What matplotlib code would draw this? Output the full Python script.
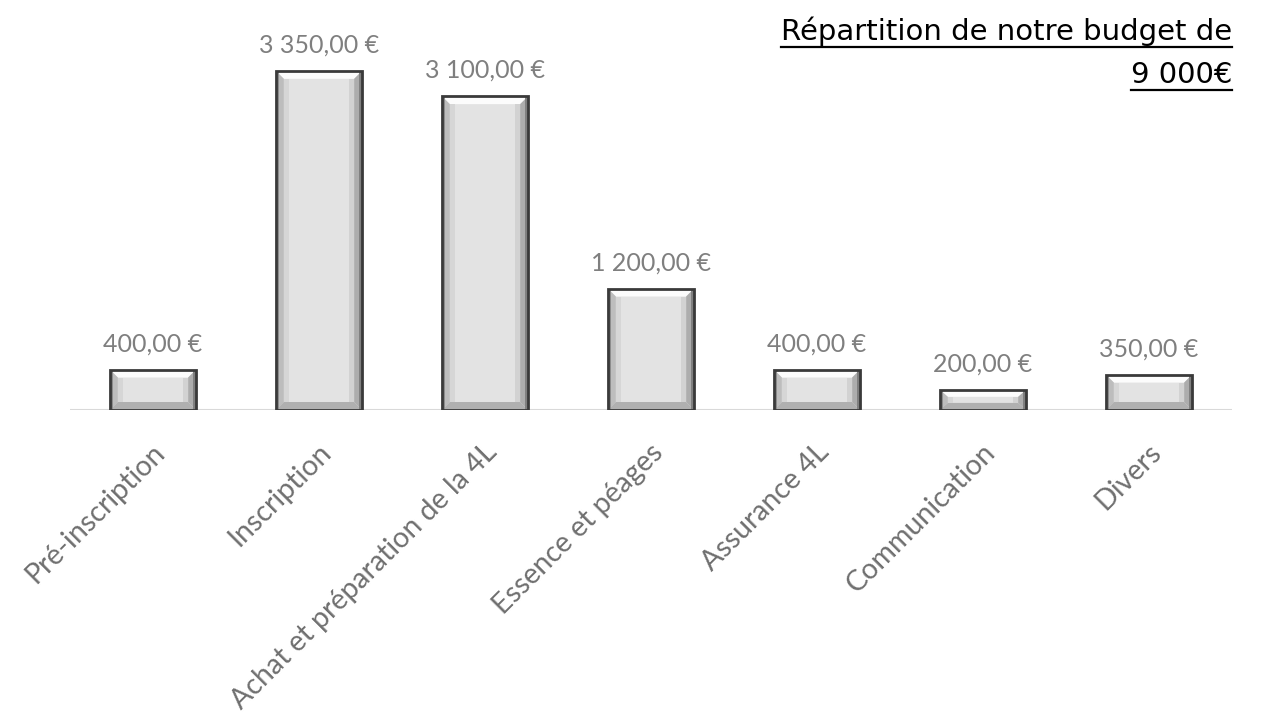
import matplotlib
matplotlib.use("Agg")
import matplotlib.pyplot as plt
from matplotlib.patches import Polygon, Rectangle

categories = ["Pré-inscription", "Inscription", "Achat et préparation de la 4L",
              "Essence et péages", "Assurance 4L", "Communication", "Divers"]
values = [400, 3350, 3100, 1200, 400, 200, 350]
value_labels = ["400,00 €", "3 350,00 €", "3 100,00 €", "1 200,00 €",
                "400,00 €", "200,00 €", "350,00 €"]
title_lines = ["Répartition de notre budget de", "9 000€"]

W, H = 1281, 719
fig = plt.figure(figsize=(W / 100, H / 100), dpi=100)
fig.patch.set_facecolor("white")

ymax = 4000
left_px, right_px, base_px, top_px = 70, 1232, 410, 5
ax = fig.add_axes([left_px / W, (H - base_px) / H, (right_px - left_px) / W, (base_px - top_px) / H])
ax.set_xlim(-0.5, len(categories) - 0.5)
ax.set_ylim(0, ymax)
ax.axis("off")
ax.axhline(0, color="#d9d9d9", lw=1.5, zorder=1)

bar_w = 0.52
px_x = (right_px - left_px) / len(categories)   # px per x unit
px_y = (base_px - top_px) / ymax                 # px per y unit
bev = 8
label_font = ["Lato", "DejaVu Sans"]

for i, (v, lab) in enumerate(zip(values, value_labels)):
    x0, x1 = i - bar_w / 2, i + bar_w / 2
    dx = bev / px_x
    dy = min(bev / px_y, v * 0.35)
    inner_h = max(v - 2 * dy, 0)
    ax.add_patch(Rectangle((x0, 0), bar_w, v, facecolor="#e3e3e3", edgecolor="none", zorder=2))
    ax.add_patch(Polygon([(x0, v), (x1, v), (x1 - dx, v - dy), (x0 + dx, v - dy)],
                         closed=True, facecolor="#fcfcfc", edgecolor="none", zorder=3))
    ax.add_patch(Polygon([(x0, 0), (x0, v), (x0 + dx, v - dy), (x0 + dx, dy)],
                         closed=True, facecolor="#bdbdbd", edgecolor="none", zorder=3))
    ax.add_patch(Polygon([(x1, 0), (x1, v), (x1 - dx, v - dy), (x1 - dx, dy)],
                         closed=True, facecolor="#adadad", edgecolor="none", zorder=3))
    ax.add_patch(Polygon([(x0, 0), (x1, 0), (x1 - dx, dy), (x0 + dx, dy)],
                         closed=True, facecolor="#b0b0b0", edgecolor="none", zorder=3))
    ax.add_patch(Rectangle((x0, 0), dx * 0.45, v, facecolor="#8c8c8c", edgecolor="none", zorder=3))
    ax.add_patch(Rectangle((x1 - dx * 0.45, 0), dx * 0.45, v, facecolor="#808080",
                           edgecolor="none", zorder=3))
    ax.add_patch(Rectangle((x0 + dx, dy), dx * 0.6, inner_h, facecolor="#d6d6d6",
                           edgecolor="none", zorder=3))
    ax.add_patch(Rectangle((x1 - dx * 1.6, dy), dx * 0.6, inner_h, facecolor="#d2d2d2",
                           edgecolor="none", zorder=3))
    ax.add_patch(Rectangle((x0, 0), bar_w, v, facecolor="none", edgecolor="#3a3a3a", lw=2.0, zorder=4))
    ax.annotate(lab, (i, v), xytext=(0, 13), textcoords="offset points", ha="center",
                va="baseline", fontsize=18, color="#7f7f7f", family=label_font)
    ax.annotate(categories[i], (i, 0), xytext=(-1, -21), textcoords="offset points",
                ha="right", va="top", rotation=45, rotation_mode="anchor",
                fontsize=20.5, color="#6f6f6f", family=label_font)

# title with underline
fig.canvas.draw()
r = fig.canvas.get_renderer()
baselines = [40, 83]
for line, by in zip(title_lines, baselines):
    t = fig.text(right_px / W, 1 - by / H, line, ha="right", va="baseline",
                 fontsize=21, color="black", family="DejaVu Sans")
    bb = t.get_window_extent(renderer=r)
    uy = 1 - (by + 7) / H
    fig.add_artist(plt.Line2D([bb.x0 / W, bb.x1 / W], [uy, uy], color="black", lw=1.6,
                              transform=fig.transFigure))

fig.savefig("out.png", dpi=100, facecolor="white")
